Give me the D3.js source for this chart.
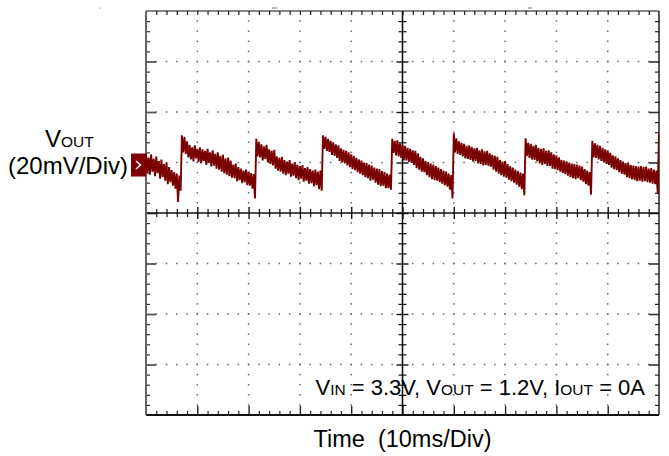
<!DOCTYPE html>
<head>
  <meta charset="utf-8">
  <script src="https://cdn.jsdelivr.net/npm/d3@7"></script>
  <style>
    body { margin:0; padding:0; background:#fff; }
    text { font-family: "Liberation Sans", Arial, sans-serif; fill:#000; white-space:pre; }
  </style>
</head>
<body>
  <svg id="chart" width="669" height="456"></svg>
  <script>
    // scope trace, peak-detect style: for every 0.5 ms sample the high and low of the noise band (mV, 0 = screen centre)
    var sampleMs = 0.5;
    var vHigh = [
      23.5,22.0,23.2,21.5,22.4,20.6,21.2,19.4,20.0,18.2,17.0,16.2,15.6,14.8,
      30.8,30.2,28.4,27.0,26.0,26.8,25.4,26.0,25.2,24.6,25.4,24.0,24.8,23.4,24.0,22.6,23.0,21.6,22.0,20.8,19.2,19.6,18.2,17.6,16.8,17.2,16.4,15.8,15.4,
      29.4,28.2,27.2,26.4,27.0,25.2,24.6,25.0,22.4,21.8,22.2,21.0,20.4,21.0,19.6,20.2,19.2,18.6,19.0,17.8,18.2,17.4,16.8,17.2,16.4,16.8,
      30.8,30.2,29.4,28.6,28.0,27.2,26.8,25.6,25.0,24.6,24.0,23.2,22.6,21.8,21.2,20.8,20.0,19.8,19.2,18.8,18.0,17.6,17.4,16.6,16.2,15.6,15.2,
      29.4,28.6,28.8,27.6,27.0,26.6,25.8,25.4,24.8,24.6,23.6,22.2,21.6,20.6,20.2,19.6,19.2,18.6,18.0,17.4,16.8,16.4,15.6,15.0,
      31.6,29.6,28.4,27.8,27.4,26.6,26.8,26.2,25.6,25.8,24.8,25.2,24.4,24.6,23.6,23.0,22.6,22.2,21.0,20.4,20.6,19.4,18.6,18.0,17.2,16.6,16.0,15.6,
      29.6,27.8,27.4,26.6,27.0,25.8,25.4,25.6,24.6,24.8,24.0,23.2,22.8,22.0,21.0,20.8,20.4,20.0,19.6,19.4,19.2,18.8,18.4,17.4,16.8,16.2,
      28.6,27.6,27.0,26.6,25.8,25.2,24.8,23.8,22.8,22.4,21.6,21.0,20.4,19.8,19.8,19.0,18.8,18.6,18.4,18.6,18.2,18.4,17.6,17.8,17.2,16.8,
      31.6
    ];
    var vLow = [
      16.0,15.2,16.4,14.6,15.8,13.6,14.2,12.8,11.4,12.2,10.8,9.6,4.4,8.8,
      24.0,23.4,22.0,21.2,20.4,21.6,20.2,19.6,20.6,19.0,19.8,18.4,18.8,17.6,17.2,16.4,15.8,15.2,14.6,14.0,13.8,12.6,13.0,11.8,12.2,11.0,10.8,9.6,5.8,
      22.4,22.0,20.8,21.4,20.0,19.4,18.8,17.6,16.8,16.4,15.6,15.0,15.6,14.4,14.8,13.8,13.0,13.6,12.4,12.8,11.6,11.8,10.6,11.0,9.4,8.8,
      25.4,24.6,24.2,23.0,22.6,21.8,20.6,20.0,19.6,18.8,18.2,17.4,17.0,16.2,15.6,15.0,14.2,13.8,12.8,13.2,12.0,11.2,10.6,10.8,9.8,9.8,9.2,
      23.8,22.8,22.4,21.8,20.8,20.8,20.2,19.8,19.0,17.8,17.2,16.4,16.2,15.0,14.2,13.4,13.0,12.8,12.2,11.6,11.0,10.4,9.2,5.8,
      24.0,23.4,23.0,22.4,21.6,21.4,21.0,20.4,20.6,19.6,19.4,18.8,19.0,18.6,18.4,17.2,16.4,15.6,15.0,14.4,14.0,13.2,12.6,12.0,11.2,10.4,9.4,7.0,
      22.6,21.8,21.2,21.0,20.4,19.6,19.0,19.4,18.6,18.6,17.6,17.4,17.0,16.4,15.8,15.4,14.8,14.2,13.8,13.4,13.8,13.0,12.4,11.4,10.8,7.2,
      22.0,21.8,21.2,20.6,20.0,19.4,19.0,18.0,17.4,17.0,16.2,15.6,15.2,14.2,13.8,13.4,13.0,12.6,12.8,12.4,12.6,12.2,12.0,11.6,11.4,7.8,
      13.0
    ];
    var markerMv = 19;

    var timeMajor = [0, 10, 20, 30, 40, 50, 60, 70, 80, 90, 100];
    var timeMinor = d3.range(2, 100, 2);
    var voltMajor = [-80, -60, -40, -20, 0, 20, 40, 60, 80];
    var voltMinor = d3.range(-76, 80, 4);

    var yTitle = ["V", "OUT", "(20mV/Div)"];
    var xTitle = "Time  (10ms/Div)";
    var noteParts = [["V", false], ["IN", true], [" = 3.3V, ", false], ["V", false], ["OUT", true],
                     [" = 1.2V, ", false], ["I", false], ["OUT", true], [" = 0A", false]];

    var plotL = 146, plotR = 659, plotT = 11, plotB = 415;
    var svg = d3.select("#chart");
    var x = d3.scaleLinear().domain([0, 100]).range([plotL, plotR]);
    var y = d3.scaleLinear().domain([-80, 80]).range([plotB, plotT]);
    var cx = x(50), cy = y(0);

    // dotted graticule
    var dots = [];
    timeMajor.slice(1, -1).forEach(function(t) {
      if (t === 50) return;
      voltMinor.forEach(function(v) { dots.push([x(t), y(v)]); });
    });
    voltMajor.slice(1, -1).forEach(function(v) {
      if (v === 0) return;
      timeMinor.forEach(function(t) { dots.push([x(t), y(v)]); });
    });
    svg.append("g").selectAll("rect").data(dots).enter().append("rect")
      .attr("x", function(d) { return d[0] - 0.75; })
      .attr("y", function(d) { return d[1] - 0.75; })
      .attr("width", 1.5).attr("height", 1.5)
      .attr("fill", "#666");

    function ticks(axis, tx, ty, vals, size, color, w) {
      var g = svg.append("g").attr("transform", "translate(" + tx + "," + ty + ")")
        .call(axis.tickValues(vals).tickSize(size).tickSizeOuter(0).tickFormat(""));
      g.select(".domain").remove();
      g.selectAll("line").attr("stroke", color).attr("stroke-width", w);
    }
    var minorT = timeMinor.filter(function(t) { return t % 10 !== 0; });
    var minorV = voltMinor.filter(function(v) { return v % 20 !== 0; });
    var innerT = timeMajor.slice(1, -1), innerV = voltMajor.slice(1, -1);

    // edge ticks
    ticks(d3.axisBottom(x), 0, plotT, timeMinor, 4, "#222", 1.2);
    ticks(d3.axisTop(x), 0, plotB, minorT, 4, "#222", 1.2);
    ticks(d3.axisTop(x), 0, plotB, innerT, 9, "#222", 1.4);
    ticks(d3.axisRight(y), plotL, 0, minorV, 4, "#333", 1.2);
    ticks(d3.axisRight(y), plotL, 0, innerV, 10, "#555", 1.8);
    ticks(d3.axisLeft(y), plotR, 0, minorV, 4, "#222", 1.2);
    ticks(d3.axisLeft(y), plotR, 0, innerV, 10, "#333", 1.6);
    // centre cross ticks
    ticks(d3.axisTop(x), 0, cy, minorT, 4, "#111", 1.2);
    ticks(d3.axisBottom(x), 0, cy, minorT, 4, "#111", 1.2);
    ticks(d3.axisTop(x), 0, cy, innerT, 6, "#111", 1.4);
    ticks(d3.axisBottom(x), 0, cy, innerT, 6, "#111", 1.4);
    ticks(d3.axisLeft(y), cx, 0, minorV, 4, "#111", 1.2);
    ticks(d3.axisRight(y), cx, 0, minorV, 4, "#111", 1.2);
    ticks(d3.axisLeft(y), cx, 0, innerV, 6, "#111", 1.4);
    ticks(d3.axisRight(y), cx, 0, innerV, 6, "#111", 1.4);

    // centre lines and frame
    svg.append("line").attr("x1", plotL).attr("x2", plotR).attr("y1", cy).attr("y2", cy)
      .attr("stroke", "#111").attr("stroke-width", 1.6);
    svg.append("line").attr("x1", cx).attr("x2", cx).attr("y1", plotT).attr("y2", plotB)
      .attr("stroke", "#111").attr("stroke-width", 1.6);
    svg.append("line").attr("x1", plotL).attr("x2", plotR).attr("y1", plotT).attr("y2", plotT)
      .attr("stroke", "#111").attr("stroke-width", 1.2);
    svg.append("line").attr("x1", plotL).attr("x2", plotR).attr("y1", plotB).attr("y2", plotB)
      .attr("stroke", "#111").attr("stroke-width", 1.8);
    svg.append("line").attr("x1", plotL).attr("x2", plotL).attr("y1", plotT).attr("y2", plotB)
      .attr("stroke", "#555").attr("stroke-width", 1.8);
    svg.append("line").attr("x1", plotR).attr("x2", plotR).attr("y1", plotT).attr("y2", plotB)
      .attr("stroke", "#111").attr("stroke-width", 1.4);

    // trace: zigzag high -> low for each sample
    svg.append("clipPath").attr("id", "plot").append("rect")
      .attr("x", plotL).attr("y", plotT).attr("width", plotR - plotL).attr("height", plotB - plotT);
    var pts = [];
    vHigh.forEach(function(h, i) {
      var t = i * sampleMs;
      pts.push([t, h]);
      pts.push([t + sampleMs / 2, vLow[i]]);
    });
    var line = d3.line().x(function(d) { return x(d[0]); }).y(function(d) { return y(d[1]); });
    svg.append("path").attr("d", line(pts)).attr("clip-path", "url(#plot)")
      .attr("fill", "none").attr("stroke", "#7a0000").attr("stroke-width", 1.9)
      .attr("stroke-linejoin", "bevel");

    // channel marker
    var my = y(markerMv);
    svg.append("rect").attr("x", plotL - 15).attr("y", my - 11.5).attr("width", 15).attr("height", 23)
      .attr("fill", "#800000");
    svg.append("path").attr("d", "M" + (plotL - 10) + "," + (my - 4) + "L" + (plotL - 5.5) + "," + my + "L" + (plotL - 10) + "," + (my + 4))
      .attr("fill", "none").attr("stroke", "#fff").attr("stroke-width", 1.6);

    // stray marks above the screen
    svg.append("rect").attr("x", 99.5).attr("y", 7.5).attr("width", 1.2).attr("height", 1.2).attr("fill", "#999");
    svg.append("rect").attr("x", 272).attr("y", 7.5).attr("width", 5).attr("height", 1).attr("fill", "#777");
    svg.append("rect").attr("x", 528).attr("y", 7.5).attr("width", 4).attr("height", 1).attr("fill", "#777");

    // texts
    var t1 = svg.append("text").attr("x", 45).attr("y", 147).attr("font-size", 24);
    t1.append("tspan").text(yTitle[0]);
    t1.append("tspan").attr("font-size", 15.5).text(yTitle[1]);
    svg.append("text").attr("x", 8).attr("y", 174).attr("font-size", 24).text(yTitle[2]);

    svg.append("text").attr("x", cx).attr("y", 447).attr("text-anchor", "middle")
      .attr("font-size", 23.5).text(xTitle);

    var note = svg.append("text").attr("x", 645).attr("y", 395).attr("text-anchor", "end").attr("font-size", 22);
    noteParts.forEach(function(p) {
      var s = note.append("tspan").text(p[0]);
      if (p[1]) s.attr("font-size", 15.5);
    });
  </script>
</body>
